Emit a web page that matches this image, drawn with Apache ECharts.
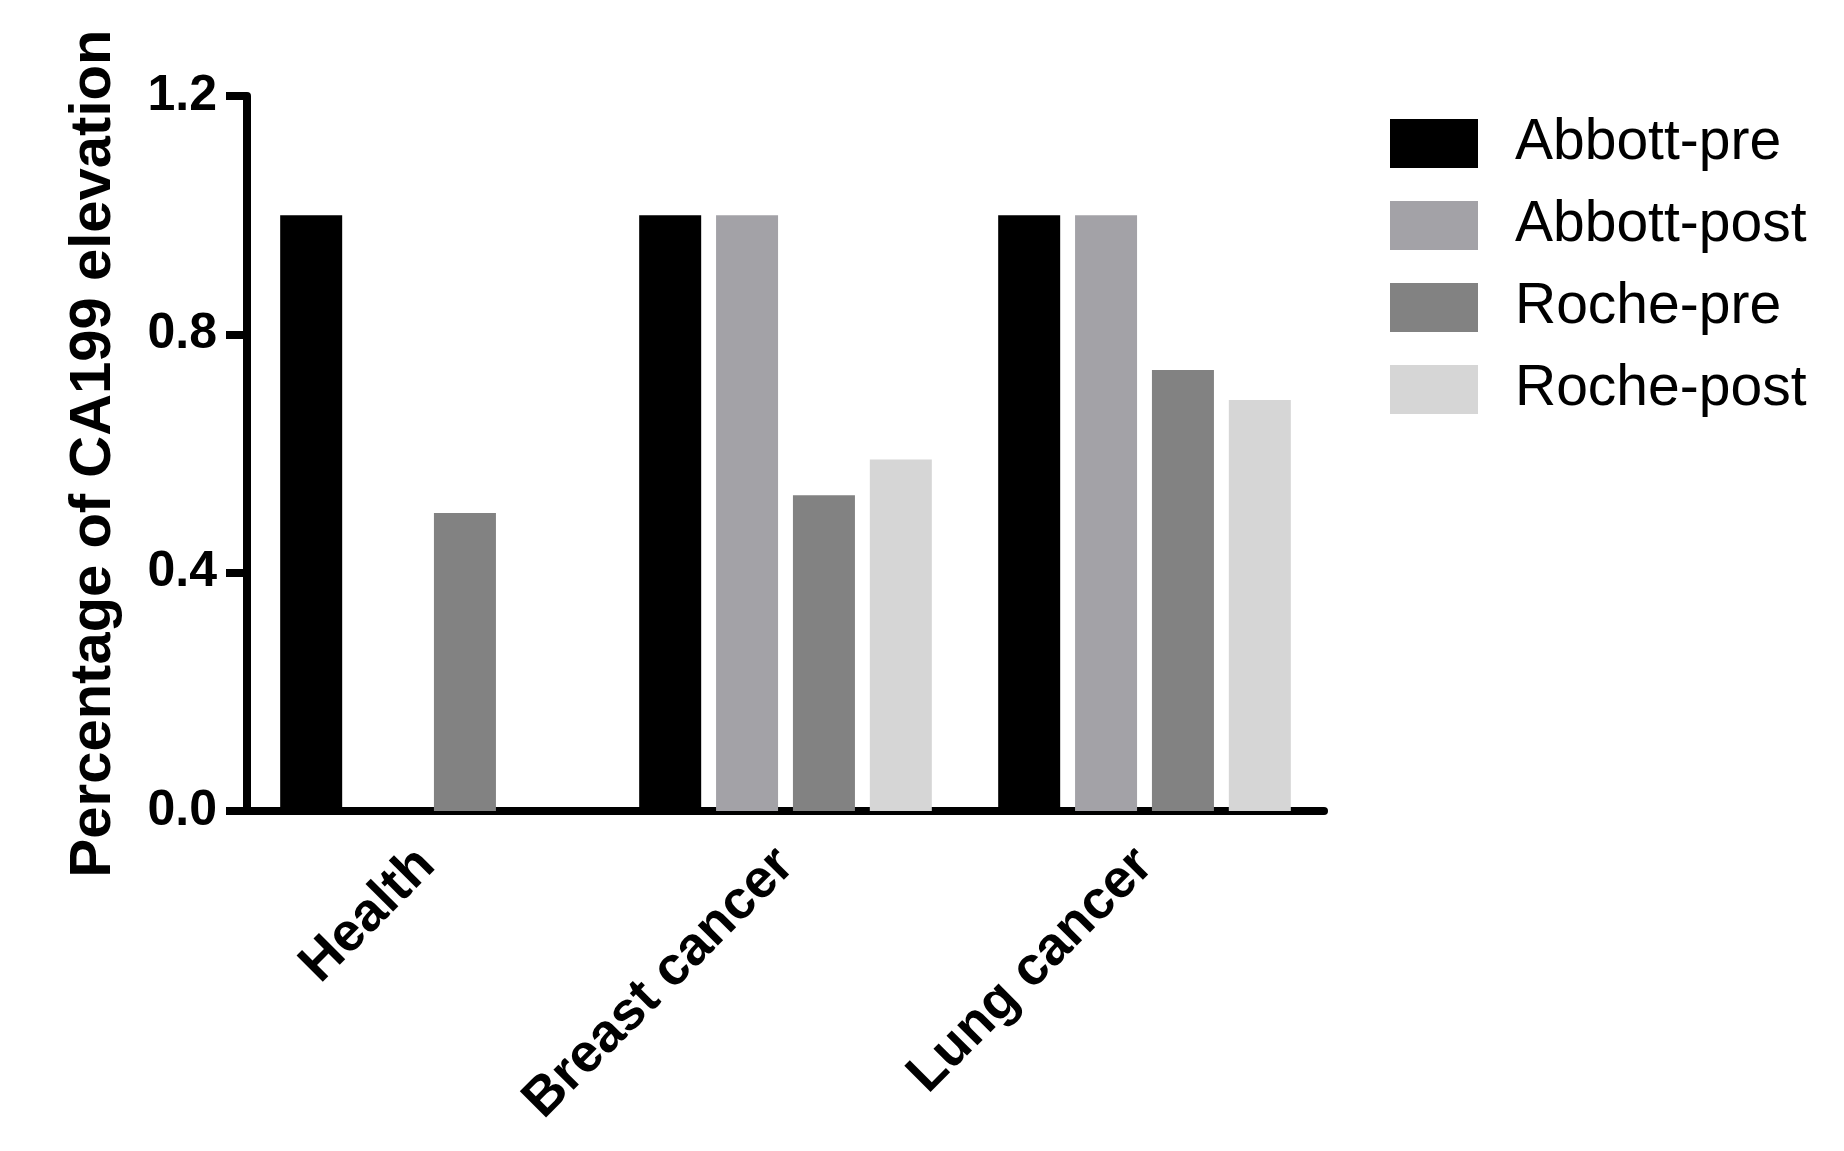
<!DOCTYPE html>
<html>
<head>
<meta charset="utf-8">
<title>CA199 elevation</title>
<script src="https://cdn.jsdelivr.net/npm/echarts@6/dist/echarts.min.js"></script>
<style>
	html, body { margin: 0; padding: 0; background: #fff; }
	#ca199 { width: 1844px; height: 1151px; }
</style>
</head>
<body>
<div id="ca199"></div>
<script>
var categories = ["Health", "Breast cancer", "Lung cancer"];
var seriesNames = ["Abbott-pre", "Abbott-post", "Roche-pre", "Roche-post"];
var abbottPre = [1.0, 1.0, 1.0];
var abbottPost = [0, 1.0, 1.0];
var rochePre = [0.5, 0.53, 0.74];
var rochePost = [0, 0.59, 0.69];
var yTicks = [0, 0.4, 0.8, 1.2];

var colorList = ['#000000', '#a3a2a7', '#828282', '#d6d6d6'];
var fontName = 'Arial, "Liberation Sans", sans-serif';

function makeSeries(name, values, color) {
	return {
		name: name,
		type: 'bar',
		data: values,
		barWidth: 62,
		barGap: '24%',
		itemStyle: { color: color },
		emphasis: { disabled: true }
	};
}

function initEcharts() {
	var myChart = echarts.init(document.getElementById("ca199"), null, { renderer: 'canvas' });
	var allValues = [abbottPre, abbottPost, rochePre, rochePost];
	var series = [];
	for (var i = 0; i < seriesNames.length; i++) {
		series.push(makeSeries(seriesNames[i], allValues[i], colorList[i]));
	}

	var option = {
		animation: false,
		textStyle: { fontFamily: fontName },
		grid: {
			left: 247,
			top: 96,
			width: 1077,
			height: 715
		},
		legend: {
			orient: 'vertical',
			left: 1385,
			top: 110,
			icon: 'rect',
			itemWidth: 88,
			itemHeight: 49,
			itemGap: 25,
			selectedMode: false,
			data: seriesNames,
			textStyle: {
				fontFamily: fontName,
				fontSize: 57,
				color: '#000',
				padding: [5, 0, 0, 32]
			}
		},
		xAxis: [{
			type: 'category',
			data: categories,
			axisLine: {
				lineStyle: { color: '#000', width: 8 }
			},
			axisTick: {
				alignWithLabel: true,
				length: 21,
				lineStyle: { color: '#000', width: 8 }
			},
			axisLabel: {
				rotate: 45,
				margin: 46,
				fontSize: 54,
				fontWeight: 'bold',
				color: '#000',
				fontFamily: fontName
			}
		}],
		yAxis: [{
			type: 'value',
			min: yTicks[0],
			max: yTicks[yTicks.length - 1],
			interval: 0.4,
			name: 'Percentage of CA199 elevation',
			nameLocation: 'middle',
			nameGap: 124,
			nameTextStyle: {
				fontSize: 58,
				fontWeight: 'bold',
				color: '#000',
				fontFamily: fontName
			},
			axisLine: {
				show: true,
				lineStyle: { color: '#000', width: 8 }
			},
			axisTick: {
				show: true,
				length: 21,
				lineStyle: { color: '#000', width: 8 }
			},
			axisLabel: {
				margin: 30,
				fontSize: 50,
				fontWeight: 'bold',
				color: '#000',
				fontFamily: fontName,
				formatter: function(v) { return v.toFixed(1); }
			},
			splitLine: { show: false }
		}],
		series: series
	};
	myChart.setOption(option);
}

initEcharts();
</script>
</body>
</html>
